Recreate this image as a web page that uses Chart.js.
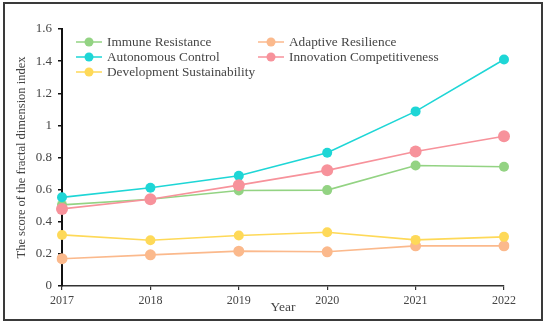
<!DOCTYPE html>
<html>
    <head>
        <meta charset="utf-8">
        <title>Fractal dimension index</title>
        <script src="https://cdn.jsdelivr.net/npm/chart.js"></script>
        <style>
            html, body {
                margin: 0;
                padding: 0;
                background: #ffffff;
            }
            .chart-container {
                position: relative;
                width: 550px;
                height: 325px;
            }
        </style>
    </head>

    <body>
        <div class="chart-container">
            <canvas id="fractalChart"></canvas>
        </div>

        <script>
            // Данные
            const years = ['2017', '2018', '2019', '2020', '2021', '2022'];
            const seriesNames = [
                'Immune Resistance',
                'Adaptive Resilience',
                'Autonomous Control',
                'Innovation Competitiveness',
                'Development Sustainability'
            ];
            const immuneResistance = [0.505, 0.54, 0.595, 0.597, 0.75, 0.742];
            const adaptiveResilience = [0.17, 0.194, 0.217, 0.213, 0.25, 0.25];
            const autonomousControl = [0.552, 0.612, 0.686, 0.83, 1.087, 1.41];
            const innovationCompetitiveness = [0.48, 0.54, 0.628, 0.72, 0.837, 0.932];
            const developmentSustainability = [0.318, 0.285, 0.314, 0.335, 0.287, 0.306];
            const yTicks = [0, 0.2, 0.4, 0.6, 0.8, 1, 1.2, 1.4, 1.6];

            const colors = ['#93d383', '#fbb98c', '#1ed6d6', '#f7929b', '#fed958'];
            const radii = [5, 5.5, 5, 6, 5];
            const drawOrder = [4, 5, 3, 1, 2];
            const values = [immuneResistance, adaptiveResilience, autonomousControl,
                            innovationCompetitiveness, developmentSustainability];

            const textColor = '#454545';
            const serif = '"Liberation Serif", "Times New Roman", serif';

            // Рамка вокруг рисунка
            const framePlugin = {
                id: 'frame',
                afterDraw(chart) {
                    const ctx = chart.ctx;
                    ctx.save();
                    ctx.strokeStyle = '#3a3a3a';
                    ctx.lineWidth = 2;
                    ctx.strokeRect(4, 3, 538, 317);
                    ctx.restore();
                }
            };

            // Легенда в две колонки внутри области графика
            const legendPlugin = {
                id: 'twoColLegend',
                afterDraw(chart) {
                    const ctx = chart.ctx;
                    const colX = [76, 258];
                    const rowY = [42, 57, 72];
                    ctx.save();
                    ctx.font = '13.3px ' + serif;
                    ctx.textBaseline = 'middle';
                    ctx.textAlign = 'left';
                    chart.data.datasets.forEach(function(ds, i) {
                        const x = colX[i % 2];
                        const y = rowY[Math.floor(i / 2)];
                        ctx.strokeStyle = ds.borderColor;
                        ctx.lineWidth = 1.5;
                        ctx.beginPath();
                        ctx.moveTo(x, y);
                        ctx.lineTo(x + 26, y);
                        ctx.stroke();
                        ctx.fillStyle = ds.backgroundColor;
                        ctx.beginPath();
                        ctx.arc(x + 13, y, 4.5, 0, Math.PI * 2);
                        ctx.fill();
                        ctx.fillStyle = textColor;
                        ctx.fillText(ds.label, x + 31, y + 1);
                    });
                    ctx.restore();
                }
            };

            const datasets = seriesNames.map(function(name, i) {
                return {
                    label: name,
                    data: values[i],
                    borderColor: colors[i],
                    backgroundColor: colors[i],
                    borderWidth: 1.6,
                    pointRadius: radii[i],
                    pointHoverRadius: radii[i],
                    pointBorderWidth: 0,
                    tension: 0,
                    order: drawOrder[i]
                };
            });

            const ctx = document.getElementById('fractalChart').getContext('2d');
            new Chart(ctx, {
                type: 'line',
                data: {
                    labels: years,
                    datasets: datasets
                },
                options: {
                    responsive: true,
                    maintainAspectRatio: false,
                    animation: false,
                    layout: {
                        padding: { left: 0, top: 29, right: 46, bottom: 0 }
                    },
                    plugins: {
                        legend: { display: false },
                        tooltip: { enabled: false }
                    },
                    scales: {
                        x: {
                            offset: false,
                            afterFit: function(scale) { scale.height = 39; },
                            grid: {
                                display: true,
                                drawOnChartArea: false,
                                drawTicks: true,
                                tickLength: 4,
                                color: '#333333',
                                lineWidth: 1.2
                            },
                            border: { display: true, color: '#333333', width: 1.5 },
                            ticks: {
                                color: textColor,
                                padding: 4,
                                maxRotation: 0,
                                font: { family: serif, size: 12 }
                            },
                            title: {
                                display: true,
                                text: 'Year',
                                color: textColor,
                                padding: { top: 0, bottom: 9 },
                                font: { family: serif, size: 13.5 }
                            }
                        },
                        y: {
                            min: 0,
                            max: 1.6,
                            afterFit: function(scale) { scale.width = 62; },
                            afterBuildTicks: function(scale) {
                                scale.ticks = yTicks.map(function(v) { return { value: v }; });
                            },
                            grid: {
                                display: true,
                                drawOnChartArea: false,
                                drawTicks: true,
                                tickLength: 4,
                                color: '#111111',
                                lineWidth: 1.5
                            },
                            border: { display: true, color: '#111111', width: 2 },
                            ticks: {
                                color: textColor,
                                padding: 6,
                                font: { family: serif, size: 13 },
                                callback: function(value) { return String(value); }
                            },
                            title: {
                                display: true,
                                text: 'The score of the fractal dimension index',
                                color: textColor,
                                padding: { top: 14, bottom: 0 },
                                font: { family: serif, size: 12.5 }
                            }
                        }
                    }
                },
                plugins: [framePlugin, legendPlugin]
            });
        </script>
    </body>
</html>
